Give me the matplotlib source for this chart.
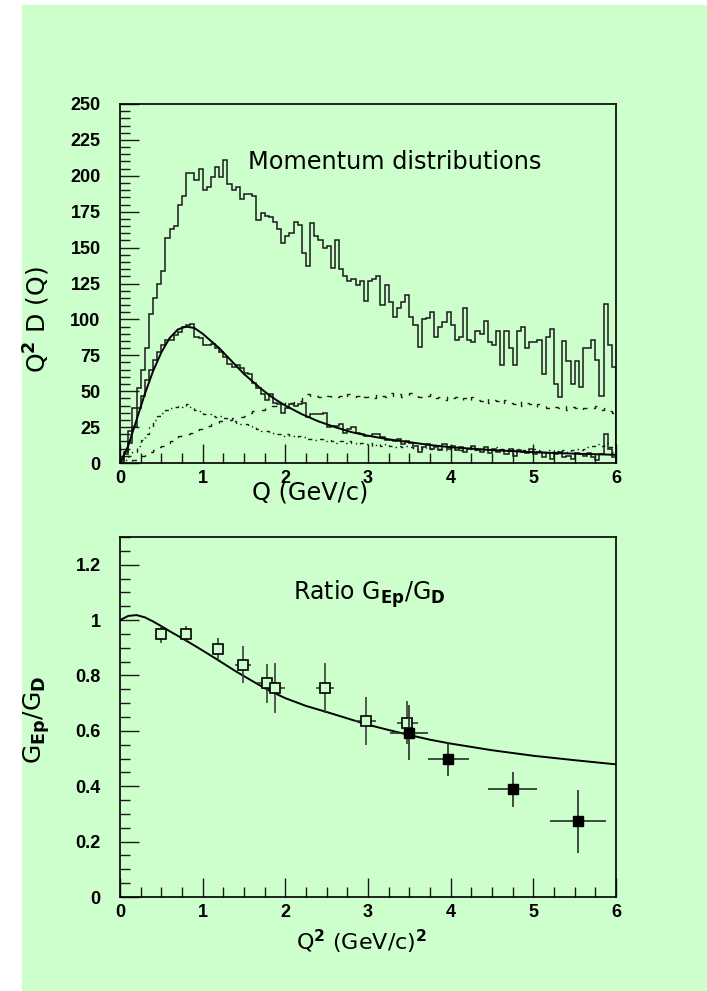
import numpy as np
import matplotlib
matplotlib.use("Agg")
import matplotlib.pyplot as plt
from matplotlib.patches import Rectangle
from matplotlib.ticker import MultipleLocator

# ---- momentum distributions, 0.05 GeV/c bins from 0 to 6 ----
q_edges = np.linspace(0.0, 6.0, 121)

total_hist = [
    2, 8, 22, 38, 52, 65, 80, 104, 115, 125,
    134, 157, 163, 165, 180, 186, 202, 202, 197, 205,
    190, 192, 199, 206, 199, 211, 194, 190, 192, 184,
    187, 187, 186, 169, 174, 172, 171, 168, 163, 153,
    158, 160, 168, 166, 146, 137, 167, 158, 155, 150,
    151, 136, 155, 135, 130, 127, 128, 124, 127, 113,
    127, 128, 130, 110, 124, 112, 102, 108, 112, 117,
    102, 96, 81, 100, 101, 105, 88, 95, 98, 105,
    96, 86, 88, 108, 86, 84, 92, 90, 99, 84,
    82, 92, 68, 92, 80, 68, 92, 95, 80, 84,
    84, 86, 62, 88, 93, 55, 46, 85, 71, 55,
    71, 53, 80, 80, 86, 72, 47, 111, 82, 67,
]

proton_hist = [
    1, 6, 14, 25, 38, 47, 58, 65, 72, 77,
    82, 86, 86, 89, 91, 95, 96, 97, 88, 87,
    82, 82, 83, 80, 77, 74, 69, 67, 68, 66,
    63, 62, 56, 52, 48, 44, 48, 42, 41, 35,
    38, 41, 40, 41, 42, 32, 34, 34, 34, 35,
    25, 26, 26, 27, 21, 24, 25, 21, 20, 19,
    19, 20, 20, 18, 16, 16, 15, 17, 13, 15,
    14, 12, 8, 11, 13, 10, 12, 9, 13, 10,
    12, 9, 11, 8, 10, 12, 9, 8, 11, 7,
    10, 8, 9, 6, 10, 5, 9, 8, 7, 10,
    6, 8, 4, 7, 3, 6, 8, 4, 5, 3,
    7, 6, 5, 7, 4, 2, 6, 20, 10, 4,
]

dashdot_hist = [
    0, 2, 5, 8, 12, 16, 20, 25, 30, 33,
    35, 37, 38, 39, 40, 39, 41, 39, 37, 36,
    34, 34, 33, 32, 33, 31, 30, 29, 28, 27,
    27, 26, 25, 24, 22, 22, 21, 21, 20, 19,
    20, 19, 18, 19, 18, 17, 17, 16, 17, 15,
    16, 15, 14, 15, 14, 15, 14, 13, 14, 13,
    14, 12, 13, 12, 13, 12, 11, 12, 11, 12,
    11, 10, 11, 10, 11, 10, 11, 10, 9, 10,
    11, 10, 9, 10, 11, 10, 9, 10, 9, 10,
    9, 11, 10, 9, 10, 9, 10, 9, 8, 9,
    10, 9, 8, 9, 8, 9, 8, 9, 8, 9,
    10, 9, 10, 11, 12, 13, 12, 14, 11, 8,
]

dashed_hist = [
    0, 0, 1, 2, 3, 5, 7, 8, 9, 11,
    12, 14, 15, 17, 19, 20, 20, 21, 23, 24,
    25, 26, 27, 28, 29, 29, 30, 31, 32, 32,
    33, 35, 36, 37, 37, 39, 40, 40, 42, 41,
    43, 42, 44, 43, 45, 48, 46, 47, 46, 45,
    47, 45, 46, 47, 45, 48, 46, 47, 48, 46,
    47, 45, 48, 47, 46, 49, 47, 48, 46, 47,
    49, 48, 46, 45, 47, 48, 45, 46, 44, 47,
    45, 46, 44, 45, 43, 46, 44, 43, 45, 42,
    44, 43, 41, 44, 42, 41, 43, 40, 42, 41,
    39, 41, 40, 38, 40, 39, 38, 40, 37, 39,
    38, 37, 38, 39, 38, 40, 37, 38, 36, 35,
]

# fitted momentum distribution
fit_q = [0.0, 0.1, 0.2, 0.3, 0.4, 0.5, 0.6, 0.7, 0.8, 0.9,
         1.0, 1.1, 1.2, 1.3, 1.4, 1.5, 1.6, 1.7, 1.8, 1.9,
         2.0, 2.2, 2.4, 2.6, 2.8, 3.0, 3.25, 3.5, 3.75, 4.0,
         4.5, 5.0, 5.5, 6.0]
fit_val = [0, 12, 30, 48, 64, 77, 87, 93, 95, 94,
           90, 85, 80, 74, 68, 62, 57, 52, 47.5, 43.5,
           40, 34, 29, 25, 21.5, 19, 16.5, 14.5, 12.5, 11,
           9, 7.5, 6.5, 5.7]

# ---- G_Ep / G_D ratio ----
open_q2 = [0.50, 0.80, 1.19, 1.49, 1.775, 1.88, 2.48, 2.97, 3.475]
open_ratio = [0.948, 0.950, 0.895, 0.839, 0.771, 0.756, 0.756, 0.636, 0.630]
open_yerr = [0.03, 0.03, 0.04, 0.066, 0.072, 0.09, 0.09, 0.087, 0.076]
open_xerr = [0.0, 0.0, 0.0, 0.10, 0.12, 0.11, 0.11, 0.13, 0.13]

full_q2 = [3.50, 3.97, 4.75, 5.54]
full_ratio = [0.593, 0.498, 0.389, 0.274]
full_yerr = [0.10, 0.06, 0.063, 0.114]
full_xerr = [0.23, 0.25, 0.30, 0.335]

curve_q2 = [0.0, 0.1, 0.2, 0.3, 0.4, 0.5, 0.6, 0.7, 0.8, 1.0,
            1.2, 1.4, 1.6, 1.8, 2.0, 2.25, 2.5, 2.75, 3.0, 3.25,
            3.5, 3.75, 4.0, 4.5, 5.0, 5.5, 6.0]
curve_ratio = [1.000, 1.015, 1.018, 1.010, 0.995, 0.978, 0.960, 0.943, 0.926, 0.890,
               0.853, 0.815, 0.780, 0.746, 0.718, 0.690, 0.668, 0.645, 0.622, 0.603,
               0.585, 0.568, 0.554, 0.530, 0.510, 0.494, 0.479]

green = '#ccffcc'
ink = '#1a1a1a'
tick_font = dict(family='Liberation Sans', weight='bold', size=13)

fig = plt.figure(figsize=(7.07, 9.91), dpi=100)
fig.patches.append(Rectangle((22 / 707, 0), 1 - 22 / 707, 986 / 991,
                             transform=fig.transFigure, color=green, zorder=-10))


def style_axes(ax):
    ax.set_facecolor('none')
    for sp in ax.spines.values():
        sp.set_linewidth(1.2)
        sp.set_color('black')
    ax.tick_params(which='both', direction='in', top=False, right=False, color=ink)
    ax.tick_params(which='major', length=14, width=1.0)
    ax.tick_params(which='minor', length=7, width=1.0)
    ax.tick_params(axis='y', pad=14)
    ax.tick_params(axis='x', pad=5)
    for lab in ax.get_xticklabels() + ax.get_yticklabels():
        lab.set_fontfamily(tick_font['family'])
        lab.set_fontweight(tick_font['weight'])
        lab.set_fontsize(tick_font['size'])


# top panel
ax1 = fig.add_axes([120 / 707, 528 / 991, 496 / 707, 359 / 991])
ax1.stairs(total_hist, q_edges, color=ink, lw=1.1)
ax1.stairs(proton_hist, q_edges, color=ink, lw=1.1)
ax1.stairs(dashdot_hist, q_edges, color=ink, lw=1.0, linestyle=(0, (3, 3, 1, 3)))
ax1.stairs(dashed_hist, q_edges, color=ink, lw=1.0, linestyle=(0, (4, 6)))
ax1.plot(fit_q, fit_val, color='black', lw=1.4)
ax1.set_xlim(0, 6)
ax1.set_ylim(0, 250)
ax1.xaxis.set_major_locator(MultipleLocator(1))
ax1.xaxis.set_minor_locator(MultipleLocator(0.25))
ax1.yaxis.set_major_locator(MultipleLocator(25))
ax1.yaxis.set_minor_locator(MultipleLocator(5))
style_axes(ax1)
ax1.text(3.32, 204.5, 'Momentum distributions', ha='center', va='baseline',
         fontsize=17.3, family='DejaVu Sans')

fig.text(310 / 707, 0.5035, 'Q (GeV/c)', ha='center', va='center', fontsize=17.3)
fig.text(37 / 707, 0.678, r'Q$^{\mathbf{2}}$ D (Q)', ha='center', va='center',
         rotation=90, fontsize=18)

# bottom panel
ax2 = fig.add_axes([120 / 707, 94 / 991, 496 / 707, 360 / 991])
ax2.plot(curve_q2, curve_ratio, color='black', lw=1.4, zorder=2)
ax2.errorbar(open_q2, open_ratio, yerr=open_yerr, xerr=open_xerr, fmt='s',
             ms=7, mfc=green, mec='black', mew=1.2, ecolor='#3c3c3c',
             elinewidth=1.2, capsize=0, zorder=3)
ax2.errorbar(full_q2, full_ratio, yerr=full_yerr, xerr=full_xerr, fmt='s',
             ms=6.5, mfc='black', mec='black', ecolor='#2a2a2a',
             elinewidth=1.2, capsize=0, zorder=4)
ax2.set_xlim(0, 6)
ax2.set_ylim(0, 1.3)
ax2.xaxis.set_major_locator(MultipleLocator(1))
ax2.xaxis.set_minor_locator(MultipleLocator(0.25))
ax2.yaxis.set_major_locator(MultipleLocator(0.2))
ax2.yaxis.set_minor_locator(MultipleLocator(0.05))
ax2.set_yticks([0, 0.2, 0.4, 0.6, 0.8, 1.0, 1.2])
ax2.set_yticklabels(['0', '0.2', '0.4', '0.6', '0.8', '1', '1.2'])
style_axes(ax2)
ax2.text(3.02, 1.072, r'Ratio G$_{\mathbf{Ep}}$/G$_{\mathbf{D}}$', ha='center',
         va='baseline', fontsize=17)

fig.text(362 / 707, 0.0494, r'Q$^{\mathbf{2}}$ (GeV/c)$^{\mathbf{2}}$', ha='center',
         va='center', fontsize=16)
fig.text(37 / 707, 0.274, r'G$_{\mathbf{Ep}}$/G$_{\mathbf{D}}$', ha='center',
         va='center', rotation=90, fontsize=18)

fig.savefig('out.png', dpi=100)
